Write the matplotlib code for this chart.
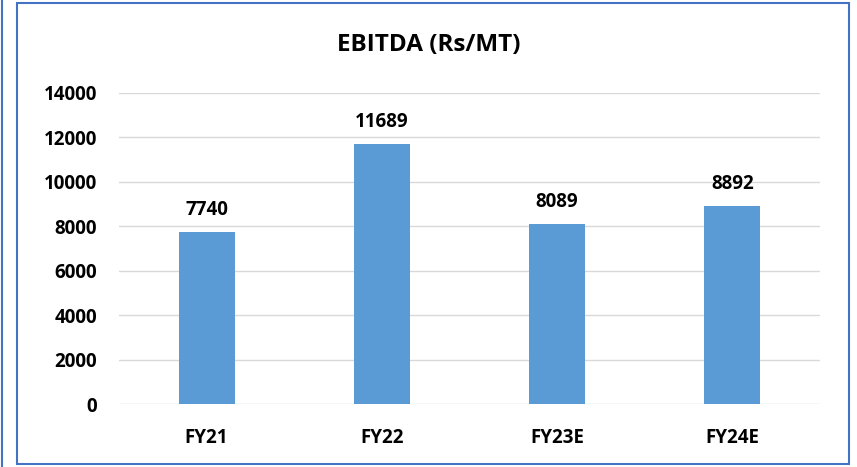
import matplotlib
matplotlib.use('Agg')
import matplotlib.pyplot as plt
from matplotlib.patches import Rectangle
from matplotlib.lines import Line2D

years = ['FY21', 'FY22', 'FY23E', 'FY24E']
ebitda = [7740, 11689, 8089, 8892]
yticks = [0, 2000, 4000, 6000, 8000, 10000, 12000, 14000]

plt.rcParams['font.family'] = ['Open Sans', 'DejaVu Sans']
plt.rcParams['font.weight'] = 'bold'

fig = plt.figure(figsize=(8.57, 4.67), dpi=100)
ax = fig.add_axes([119 / 857, 1 - 404 / 467, 701 / 857, 311 / 467])

bars = ax.bar(range(len(years)), ebitda, width=0.32, color='#5B9BD5', zorder=3)
for i, v in enumerate(ebitda):
    ax.annotate(str(v), (i, v), xytext=(0, 9), textcoords='offset points',
                ha='center', va='bottom', fontsize=13.5, fontweight='bold')

ax.set_xlim(-0.5, len(years) - 0.5)
ax.set_ylim(0, 14000)
ax.set_yticks(yticks)
ax.set_xticks(range(len(years)))
ax.set_xticklabels(years)
ax.yaxis.grid(True, color='#D9D9D9', linewidth=1, zorder=0)
for s in ax.spines.values():
    s.set_visible(False)
ax.tick_params(length=0, labelsize=13.5)
ax.tick_params(axis='y', pad=16)
ax.tick_params(axis='x', pad=17)
for lab in ax.get_xticklabels() + ax.get_yticklabels():
    lab.set_fontweight('bold')

fig.text(0.5, 1 - 45 / 467, 'EBITDA (Rs/MT)', ha='center', va='center',
         fontsize=17.5, fontweight='bold')

# outer frames
fig.patches.append(Rectangle((17 / 857, 3 / 467), 832 / 857, 461 / 467,
                             transform=fig.transFigure, fill=False,
                             edgecolor='#4472C4', linewidth=1.5))
fig.lines.append(Line2D([2 / 857, 2 / 857], [0, 1], transform=fig.transFigure,
                        color='#4472C4', linewidth=1.5))

fig.savefig('out.png', dpi=100)
